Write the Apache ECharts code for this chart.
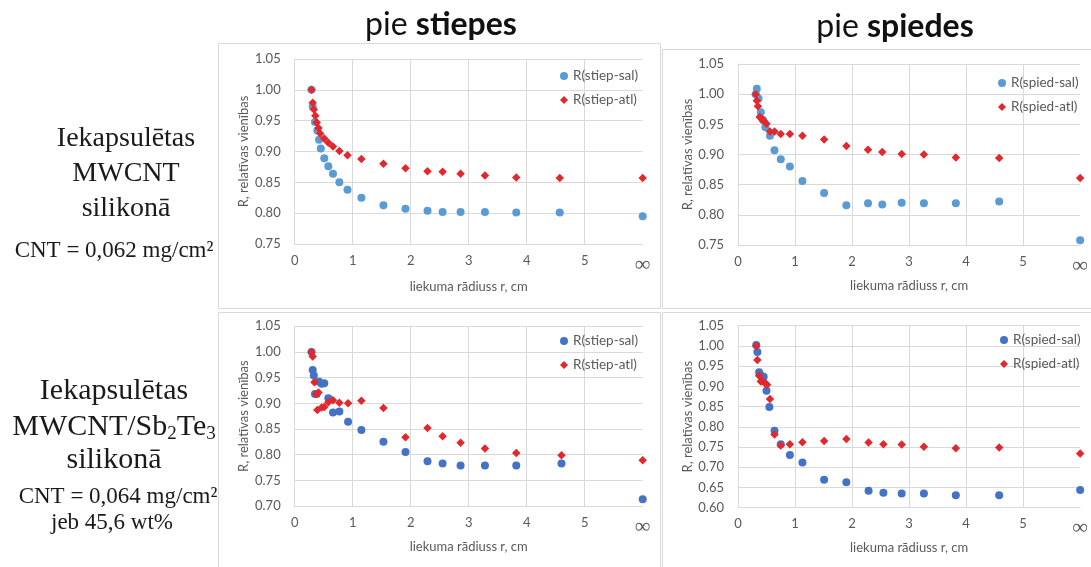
<!DOCTYPE html>
<html><head><meta charset="utf-8">
<script src="https://cdn.jsdelivr.net/npm/echarts@6/dist/echarts.min.js"></script>
<style>html,body{margin:0;padding:0;background:#fff}#c{width:1091px;height:567px}</style>
</head><body><div id="c"></div>
<script>
// ---- data ----
const xTickLabels = ['0', '1', '2', '3', '4', '5', '∞']; // tick at 6 stands for r = ∞

// Panel 1: MWCNT, pie stiepes
const p1SalR = [0.29, 0.31, 0.35, 0.39, 0.42, 0.45, 0.51, 0.58, 0.66, 0.77, 0.91, 1.15, 1.53, 1.91, 2.29, 2.55, 2.86, 3.28, 3.82, 4.57, 6];
const p1SalV = [1.000, 0.973, 0.948, 0.934, 0.919, 0.905, 0.889, 0.876, 0.864, 0.850, 0.838, 0.825, 0.813, 0.807, 0.804, 0.802, 0.802, 0.802, 0.801, 0.801, 0.795];
const p1AtlR = [0.29, 0.31, 0.33, 0.355, 0.38, 0.41, 0.44, 0.51, 0.58, 0.66, 0.77, 0.91, 1.15, 1.53, 1.91, 2.29, 2.55, 2.86, 3.28, 3.82, 4.57, 6];
const p1AtlV = [1.000, 0.979, 0.968, 0.958, 0.947, 0.938, 0.929, 0.921, 0.914, 0.908, 0.901, 0.894, 0.888, 0.880, 0.873, 0.868, 0.867, 0.864, 0.861, 0.858, 0.857, 0.857];

// Panel 2: MWCNT, pie spiedes
const p2SalR = [0.31, 0.33, 0.36, 0.40, 0.44, 0.48, 0.56, 0.64, 0.75, 0.91, 1.13, 1.51, 1.90, 2.28, 2.53, 2.87, 3.26, 3.82, 4.58, 6];
const p2SalV = [1.000, 1.009, 0.993, 0.970, 0.957, 0.945, 0.931, 0.907, 0.892, 0.880, 0.856, 0.836, 0.816, 0.819, 0.817, 0.820, 0.819, 0.819, 0.822, 0.758];
const p2AtlR = [0.31, 0.33, 0.35, 0.38, 0.40, 0.42, 0.45, 0.50, 0.56, 0.64, 0.75, 0.91, 1.13, 1.51, 1.90, 2.28, 2.53, 2.87, 3.26, 3.82, 4.58, 6];
const p2AtlV = [1.000, 0.989, 0.980, 0.962, 0.961, 0.958, 0.956, 0.951, 0.938, 0.938, 0.934, 0.934, 0.931, 0.925, 0.914, 0.908, 0.904, 0.901, 0.900, 0.895, 0.894, 0.861];

// Panel 3: MWCNT/Sb2Te3, pie stiepes
const p3SalR = [0.29, 0.31, 0.33, 0.35, 0.38, 0.42, 0.465, 0.51, 0.58, 0.66, 0.77, 0.92, 1.15, 1.53, 1.91, 2.29, 2.55, 2.86, 3.28, 3.82, 4.6, 6];
const p3SalV = [1.000, 0.965, 0.954, 0.918, 0.918, 0.942, 0.938, 0.939, 0.910, 0.882, 0.884, 0.864, 0.848, 0.825, 0.805, 0.787, 0.783, 0.779, 0.779, 0.779, 0.783, 0.713];
const p3AtlR = [0.29, 0.31, 0.34, 0.37, 0.39, 0.41, 0.465, 0.51, 0.58, 0.66, 0.77, 0.92, 1.15, 1.53, 1.91, 2.29, 2.55, 2.86, 3.28, 3.82, 4.6, 6];
const p3AtlV = [1.000, 0.991, 0.941, 0.918, 0.887, 0.921, 0.892, 0.893, 0.902, 0.906, 0.901, 0.900, 0.905, 0.891, 0.834, 0.852, 0.836, 0.823, 0.812, 0.803, 0.799, 0.789];

// Panel 4: MWCNT/Sb2Te3, pie spiedes
const p4SalR = [0.32, 0.34, 0.37, 0.40, 0.45, 0.50, 0.55, 0.64, 0.75, 0.91, 1.13, 1.51, 1.90, 2.29, 2.55, 2.87, 3.26, 3.82, 4.58, 6];
const p4SalV = [1.002, 0.985, 0.935, 0.927, 0.924, 0.889, 0.849, 0.790, 0.757, 0.730, 0.712, 0.669, 0.663, 0.642, 0.637, 0.635, 0.635, 0.631, 0.631, 0.644];
const p4AtlR = [0.32, 0.34, 0.37, 0.40, 0.44, 0.48, 0.51, 0.56, 0.64, 0.75, 0.91, 1.13, 1.51, 1.90, 2.29, 2.55, 2.87, 3.26, 3.82, 4.58, 6];
const p4AtlV = [1.000, 0.965, 0.926, 0.912, 0.912, 0.908, 0.904, 0.869, 0.781, 0.754, 0.757, 0.762, 0.765, 0.770, 0.761, 0.757, 0.756, 0.751, 0.747, 0.749, 0.734];

const yMins = [0.75, 0.75, 0.70, 0.60];
const yMax = 1.05;

// ---- build ----
const pts = (xs, ys) => xs.map((x, i) => [x, ys[i]]);
const FONT = 'Lato';
const GRAY = '#595959';
const LINE = '#d9d9d9';
const RED = '#e2282d';
const BLUE_L = '#5b9bd5';
const BLUE_D = '#4472c4';

const grids = [
  { left: 294.7, top: 59, width: 348, height: 185 },
  { left: 738, top: 64, width: 347.4, height: 181 },
  { left: 294.7, top: 326.3, width: 348, height: 179.7 },
  { left: 738, top: 325.7, width: 347.4, height: 182 }
];
const xNameGaps = [36, 34, 34, 34];

const xAxes = grids.map((g, i) => ({
  gridIndex: i, type: 'value', min: 0, max: 6, interval: 1,
  axisLine: { show: true, lineStyle: { color: LINE } },
  axisTick: { show: false },
  axisLabel: {
    color: GRAY, fontSize: 13, fontFamily: FONT, margin: 10,
    formatter: v => v === 6 ? '{inf|' + xTickLabels[6] + '}' : xTickLabels[v],
    rich: { inf: { fontSize: 22, color: GRAY, fontFamily: 'Liberation Serif' } }
  },
  splitLine: { show: true, showMaxLine: false, lineStyle: { color: LINE } },
  name: 'liekuma rādiuss r, cm', nameLocation: 'middle', nameGap: xNameGaps[i],
  nameTextStyle: { color: GRAY, fontSize: 13, fontFamily: FONT }
}));

const yAxes = grids.map((g, i) => ({
  gridIndex: i, type: 'value', min: yMins[i], max: yMax, interval: 0.05,
  axisLine: { show: true, lineStyle: { color: LINE } },
  axisTick: { show: false },
  axisLabel: { color: GRAY, fontSize: 13, fontFamily: FONT, margin: 14, formatter: v => v.toFixed(2) },
  splitLine: { show: true, lineStyle: { color: LINE } },
  name: 'R, relatīvas vienības', nameLocation: 'middle', nameGap: 44, nameRotate: 90,
  nameTextStyle: { color: GRAY, fontSize: 13, fontFamily: FONT }
}));

const panels = [
  { sal: 'R(stiep-sal)', atl: 'R(stiep-atl)', blue: BLUE_L, s: [p1SalR, p1SalV], a: [p1AtlR, p1AtlV], lg: { left: 555, top: 64 } },
  { sal: 'R(spied-sal)', atl: 'R(spied-atl)', blue: BLUE_L, s: [p2SalR, p2SalV], a: [p2AtlR, p2AtlV], lg: { left: 993, top: 71 } },
  { sal: 'R(stiep-sal)', atl: 'R(stiep-atl)', blue: BLUE_D, s: [p3SalR, p3SalV], a: [p3AtlR, p3AtlV], lg: { left: 555, top: 329 } },
  { sal: 'R(spied-sal)', atl: 'R(spied-atl)', blue: BLUE_D, s: [p4SalR, p4SalV], a: [p4AtlR, p4AtlV], lg: { left: 995, top: 328 } }
];

const series = [];
const legends = [];
panels.forEach((p, i) => {
  series.push({
    name: p.sal, type: 'scatter', xAxisIndex: i, yAxisIndex: i,
    symbol: 'circle', symbolSize: 8, itemStyle: { color: p.blue, opacity: 1 },
    data: pts(p.s[0], p.s[1]), z: 2
  });
  series.push({
    name: p.atl, type: 'scatter', xAxisIndex: i, yAxisIndex: i,
    symbol: 'diamond', symbolSize: 8.5, itemStyle: { color: RED, opacity: 1 },
    data: pts(p.a[0], p.a[1]), z: 3
  });
  legends.push({
    orient: 'vertical', left: p.lg.left, top: p.lg.top,
    itemWidth: 8, itemHeight: 8, itemGap: 10, selectedMode: false,
    textStyle: { color: GRAY, fontSize: 13.5, fontFamily: FONT },
    data: [
      { name: p.sal, icon: 'circle', itemStyle: { color: p.blue } },
      { name: p.atl, icon: 'diamond', itemStyle: { color: RED } }
    ]
  });
});

const serif = 'Liberation Serif';
const txt = (x, y, text, size, extra) => Object.assign({
  type: 'text', x: x, y: y,
  style: Object.assign({ text: text, fontSize: size, fontFamily: serif, fill: '#1a1a1a', align: 'center', verticalAlign: 'middle' }, extra || {})
});

const graphics = [
  { type: 'rect', shape: { x: 218.5, y: 43.5, width: 442, height: 265 }, style: { fill: null, stroke: LINE, lineWidth: 1 }, z: -1 },
  { type: 'rect', shape: { x: 662.5, y: 49.5, width: 440, height: 259 }, style: { fill: null, stroke: LINE, lineWidth: 1 }, z: -1 },
  { type: 'rect', shape: { x: 218.5, y: 312.5, width: 442, height: 270 }, style: { fill: null, stroke: LINE, lineWidth: 1 }, z: -1 },
  { type: 'rect', shape: { x: 662.5, y: 312.5, width: 440, height: 270 }, style: { fill: null, stroke: LINE, lineWidth: 1 }, z: -1 },
  {
    type: 'text', x: 441, y: 25,
    style: {
      text: '{n|pie }{b|stiepes}', align: 'center', verticalAlign: 'middle',
      rich: { n: { fontSize: 32, fontFamily: FONT, fill: '#111' }, b: { fontSize: 32, fontFamily: FONT, fontWeight: 'bold', fill: '#111' } }
    }
  },
  {
    type: 'text', x: 895, y: 27,
    style: {
      text: '{n|pie }{b|spiedes}', align: 'center', verticalAlign: 'middle',
      rich: { n: { fontSize: 32, fontFamily: FONT, fill: '#111' }, b: { fontSize: 32, fontFamily: FONT, fontWeight: 'bold', fill: '#111' } }
    }
  },
  txt(126, 139, 'Iekapsulētas', 28),
  txt(126, 174, 'MWCNT', 28),
  txt(126, 209, 'silikonā', 28),
  txt(114, 251, 'CNT = 0,062 mg/cm²', 23),
  txt(114, 391, 'Iekapsulētas', 30),
  {
    type: 'text', x: 114, y: 427,
    style: {
      text: '{m|MWCNT/Sb}{s|2}{m|Te}{s|3}', align: 'center', verticalAlign: 'middle',
      rich: {
        m: { fontSize: 30, fontFamily: serif, fill: '#1a1a1a', lineHeight: 34 },
        s: { fontSize: 19, fontFamily: serif, fill: '#1a1a1a', lineHeight: 16, verticalAlign: 'bottom' }
      }
    }
  },
  txt(114, 460, 'silikonā', 30),
  txt(118, 497, 'CNT = 0,064 mg/cm²', 23),
  txt(112, 523, 'jeb 45,6 wt%', 23)
];

const chart = echarts.init(document.getElementById('c'), null, { renderer: 'canvas' });
chart.setOption({
  backgroundColor: '#fff',
  animation: false,
  grid: grids,
  xAxis: xAxes,
  yAxis: yAxes,
  legend: legends,
  series: series,
  graphic: graphics
});
</script>
</body></html>
